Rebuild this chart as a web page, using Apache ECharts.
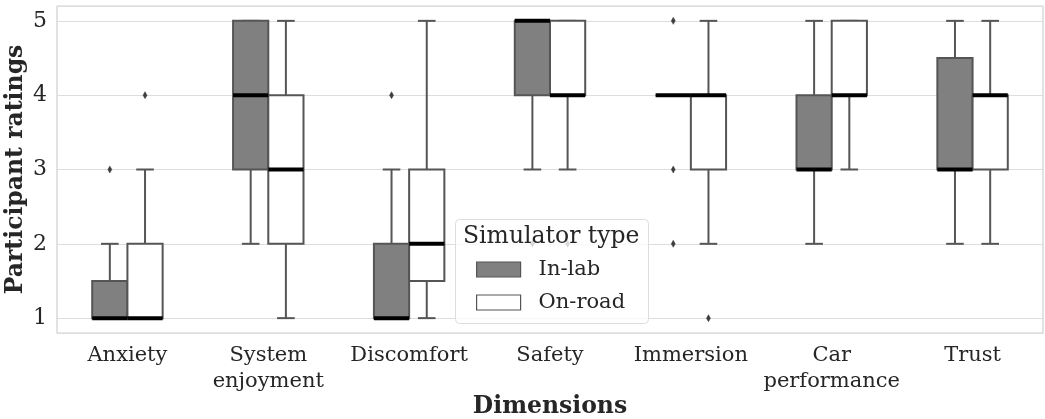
<!DOCTYPE html>
<head>
    <meta charset="utf-8"/>
    <style>
        html,body { height:100%; width:100%; margin:0; padding:0; background:#fff; }
    </style>
</head>
<body>
<div id="box" style="width:1045px;height:419px"></div>
<script src="https://cdn.jsdelivr.net/npm/echarts@6/dist/echarts.min.js"></script>
<script type="text/javascript">

 // categories on the x axis
 var dimensions = ['Anxiety', 'System\nenjoyment', 'Discomfort', 'Safety', 'Immersion', 'Car\nperformance', 'Trust'];

 // [min, q1, median, q3, max] per dimension
 var inLabStats = [
     [1, 1, 1, 1.5, 2],
     [2, 3, 4, 5, 5],
     [1, 1, 1, 2, 3],
     [3, 4, 5, 5, 5],
     [4, 4, 4, 4, 4],
     [2, 3, 3, 4, 5],
     [2, 3, 3, 4.5, 5]
 ];
 var onRoadStats = [
     [1, 1, 1, 2, 3],
     [1, 2, 3, 4, 5],
     [1, 1.5, 2, 3, 5],
     [3, 4, 4, 5, 5],
     [2, 3, 4, 4, 5],
     [3, 4, 4, 5, 5],
     [2, 3, 4, 4, 5]
 ];

 // outliers: [dimension index, rating]
 var inLabOutliers = [[0, 3], [2, 4], [3, 2], [4, 5], [4, 3], [4, 2]];
 var onRoadOutliers = [[0, 4], [3, 2], [4, 1]];

 var yTicks = [1, 2, 3, 4, 5];

 var serif = 'DejaVu Serif';
 var textColor = '#262626';
 var edgeColor = '#555555';

 function withIndex(stats) {
     return stats.map(function (s, i) { return [i].concat(s); });
 }

 // box + whiskers + median, offset inside the category band
 function boxRenderer(offsetFrac, fill) {
     return function (params, api) {
         var ci = api.value(0);
         var band = api.size([1, 0])[0];
         var bw = band * 0.25;
         var capW = bw / 2;
         var base = api.coord([ci, api.value(1)]);
         var cx = base[0] + offsetFrac * band;
         var yMin = base[1];
         var yQ1 = api.coord([ci, api.value(2)])[1];
         var yMed = api.coord([ci, api.value(3)])[1];
         var yQ3 = api.coord([ci, api.value(4)])[1];
         var yMax = api.coord([ci, api.value(5)])[1];
         var lineStyle = { stroke: edgeColor, lineWidth: 2, fill: null };
         return {
             type: 'group',
             children: [
                 { type: 'line', shape: { x1: cx, y1: yMax, x2: cx, y2: yQ3 }, style: lineStyle },
                 { type: 'line', shape: { x1: cx, y1: yQ1, x2: cx, y2: yMin }, style: lineStyle },
                 { type: 'line', shape: { x1: cx - capW / 2, y1: yMax, x2: cx + capW / 2, y2: yMax }, style: lineStyle },
                 { type: 'line', shape: { x1: cx - capW / 2, y1: yMin, x2: cx + capW / 2, y2: yMin }, style: lineStyle },
                 { type: 'rect', shape: { x: cx - bw / 2, y: yQ3, width: bw, height: yQ1 - yQ3 },
                   style: { fill: fill, stroke: edgeColor, lineWidth: 2 } },
                 { type: 'line', shape: { x1: cx - bw / 2, y1: yMed, x2: cx + bw / 2, y2: yMed },
                   style: { stroke: '#000', lineWidth: 4 }, z2: 5 }
             ]
         };
     };
 }

 function outlierRenderer(offsetFrac) {
     return function (params, api) {
         var band = api.size([1, 0])[0];
         var p = api.coord([api.value(0), api.value(1)]);
         var x = p[0] + offsetFrac * band, y = p[1];
         return {
             type: 'polygon',
             shape: { points: [[x, y - 3.5], [x + 2, y], [x, y + 3.5], [x - 2, y]] },
             style: { fill: '#3d3d3d', stroke: '#3d3d3d', lineWidth: 0.5 }
         };
     };
 }

 var chart = echarts.init(document.getElementById('box'));

 var option = {
     animation: false,
     grid: {
         left: 57, right: 2, top: 6, bottom: 86,
         outerBoundsMode: 'none',
         containLabel: false,
         show: true, borderColor: '#cfcfcf', borderWidth: 1.2, backgroundColor: '#fff'
     },
     xAxis: {
         type: 'category',
         data: dimensions,
         boundaryGap: true,
         name: 'Dimensions',
         nameLocation: 'middle',
         nameGap: 62,
         nameMoveOverlap: false,
         nameTextStyle: { fontFamily: serif, fontSize: 23.5, fontWeight: 'bold', color: textColor },
         axisLine: { show: false },
         axisTick: { show: false },
         splitLine: { show: false },
         axisLabel: { interval: 0, fontFamily: serif, fontSize: 21, color: textColor, lineHeight: 26, margin: 10 }
     },
     yAxis: {
         type: 'value',
         min: 0.8,
         max: 5.2,
         splitNumber: 5,
         name: 'Participant ratings',
         nameLocation: 'middle',
         nameGap: 29,
         nameMoveOverlap: false,
         nameTextStyle: { fontFamily: serif, fontSize: 23.5, fontWeight: 'bold', color: textColor },
         axisLine: { show: false },
         axisTick: { show: false },
         splitLine: { lineStyle: { color: '#dddddd', width: 1.2 } },
         axisLabel: {
             fontFamily: serif, fontSize: 22, color: textColor, margin: 10,
             showMinLabel: false, showMaxLabel: false,
             formatter: function (v) { return yTicks.indexOf(v) >= 0 ? String(v) : ''; }
         }
     },
     legend: {
         data: [
             { name: 'In-lab', itemStyle: { color: '#808080', borderColor: edgeColor, borderWidth: 1.2 } },
             { name: 'On-road', itemStyle: { color: '#ffffff', borderColor: edgeColor, borderWidth: 1.2 } }
         ],
         orient: 'vertical',
         left: 476,
         top: 259,
         padding: 0,
         itemWidth: 44,
         itemHeight: 15,
         itemGap: 12,
         icon: 'rect',
         z: 20,
         selectedMode: false,
         textStyle: { fontFamily: serif, fontSize: 21, color: textColor, padding: [0, 0, 0, 13] }
     },
     graphic: [
         {
             type: 'rect', left: 455, top: 219, z: 10,
             shape: { width: 193, height: 104, r: 4 },
             style: { fill: 'rgba(255,255,255,0.8)', stroke: '#dddddd', lineWidth: 1 }
         },
         {
             type: 'text', left: 463, top: 225, z: 11,
             style: { text: 'Simulator type', font: '23.5px "DejaVu Serif"', fill: textColor }
         }
     ],
     series: [
         {
             name: 'In-lab', type: 'custom',
             renderItem: boxRenderer(-0.125, '#808080'),
             encode: { x: 0, y: [1, 2, 3, 4, 5] },
             itemStyle: { color: '#808080' },
             data: withIndex(inLabStats)
         },
         {
             name: 'On-road', type: 'custom',
             renderItem: boxRenderer(0.125, '#ffffff'),
             encode: { x: 0, y: [1, 2, 3, 4, 5] },
             itemStyle: { color: '#ffffff' },
             data: withIndex(onRoadStats)
         },
         {
             name: 'In-lab outliers', type: 'custom',
             renderItem: outlierRenderer(-0.125),
             encode: { x: 0, y: 1 },
             data: inLabOutliers
         },
         {
             name: 'On-road outliers', type: 'custom',
             renderItem: outlierRenderer(0.125),
             encode: { x: 0, y: 1 },
             data: onRoadOutliers
         }
     ]
 };

 chart.setOption(option);

</script>
</body>
